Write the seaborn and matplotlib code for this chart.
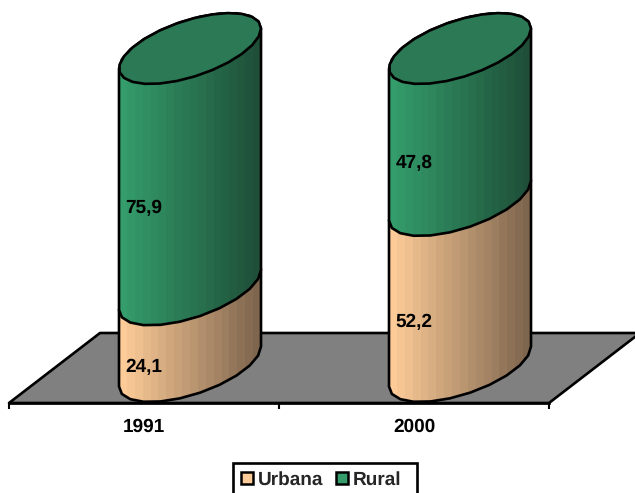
import numpy as np
import pandas as pd
import matplotlib
matplotlib.use("Agg")
import matplotlib.pyplot as plt
from matplotlib.colors import LinearSegmentedColormap
from matplotlib.patches import Polygon, Patch, Rectangle
import seaborn as sns

years = ["1991", "2000"]
urbana = [24.1, 52.2]
rural = [75.9, 47.8]
series_names = ["Urbana", "Rural"]
urbana_light, urbana_dark = "#FDCB98", "#7E664E"
rural_light, rural_dark = "#349D6B", "#1F4F38"
rural_cap = "#2B7955"
floor_colour = "#808080"

sns.set_theme(style="white")
plt.rcParams["font.family"] = ["Liberation Sans", "DejaVu Sans"]
plt.rcParams["font.weight"] = "bold"
plt.rcParams["text.hinting"] = "none"
plt.rcParams["text.hinting_factor"] = 1

W, H = 635, 493
fig = plt.figure(figsize=(W / 100, H / 100), dpi=100)
ax = fig.add_axes([9 / W, (H - 403) / H, 540 / W, 403 / H])
ax.patch.set_alpha(0)

df = pd.DataFrame({"year": years, "urbana": urbana, "rural": rural})
sns.barplot(data=df, x="year", y="urbana", color=urbana_light, width=142 / 270,
            saturation=1, ax=ax, zorder=2, legend=False)
sns.barplot(data=df, x="year", y="rural", bottom=df["urbana"], color=rural_light,
            width=142 / 270, saturation=1, ax=ax, zorder=2, legend=False)

px_x = 1 / 270       # category units per pixel
px_y = 1 / 3.18      # value units per pixel
ax.set_xlim(-0.5, 1.5)
ax.set_ylim(0, 403 * px_y)

depth_x = 46 * px_x
depth_y = 36.5 * px_y
half_w = 71 * px_x
tilt = 20 * px_y
sag = 29.3 * px_y


def ellipse(cx, v, t):
    return np.column_stack([cx + depth_x + half_w * np.cos(t),
                            v + depth_y + tilt * np.cos(t) + sag * np.sin(t)])


front = np.linspace(np.pi, 2 * np.pi, 12)
back = np.linspace(0, np.pi, 12)
edge_kw = dict(edgecolor="black", linewidth=1.9, joinstyle="round")

# floor of the 3-D chart
floor_dx = 91 * px_x
floor_dy = 70 * px_y
ax.add_patch(Polygon([(-0.5, 0), (1.5, 0), (1.5 + floor_dx, floor_dy), (-0.5 + floor_dx, floor_dy)],
                     facecolor=floor_colour, clip_on=False, zorder=1, **edge_kw))

bars = list(ax.patches)[:-1]
n = len(years)
segments = [(bars[i], i, urbana_light, urbana_dark) for i in range(n)] + \
           [(bars[n + i], i, rural_light, rural_dark) for i in range(n)]

for k, (bar, i, light, dark) in enumerate(segments):
    v0, v1 = bar.get_y(), bar.get_y() + bar.get_height()
    cx = bar.get_x() + bar.get_width() / 2
    outline = np.vstack([ellipse(cx, v0, front), ellipse(cx, v1, back)])
    z = 3 + k * 0.1
    skin = Polygon(outline, closed=True, transform=ax.transData, facecolor="none",
                   clip_on=False, zorder=z + 0.02, **edge_kw)
    ax.add_patch(skin)
    cmap = LinearSegmentedColormap.from_list("shade", [light, dark])
    im = ax.imshow(np.linspace(0, 1, 18)[None, :], cmap=cmap, aspect="auto",
                   interpolation="nearest", zorder=z,
                   extent=[cx + depth_x - half_w, cx + depth_x + half_w, 0, 125])
    im.set_clip_path(Polygon(outline, closed=True, transform=ax.transData))
    bar.set_visible(False)
    if light == rural_light:
        cap = ellipse(cx, v1, np.linspace(0, 2 * np.pi, 26))
        ax.add_patch(Polygon(cap, closed=True, facecolor=rural_cap, clip_on=False,
                             zorder=z + 0.05, **edge_kw))

ax.set_xlim(-0.5, 1.5)
ax.set_ylim(0, 403 * px_y)

# value labels sit on the front plane
label_shift = -2 * px_y
for i in range(n):
    ax.text(i, urbana[i] / 2 + label_shift, f"{urbana[i]:.1f}".replace(".", ","), ha="center",
            va="center", fontsize=13.5, fontweight="bold", color="black", zorder=10)
    ax.text(i, urbana[i] + rural[i] / 2 + label_shift, f"{rural[i]:.1f}".replace(".", ","), ha="center",
            va="center", fontsize=13.5, fontweight="bold", color="black", zorder=10)

for s in ["top", "left", "right"]:
    ax.spines[s].set_visible(False)
ax.spines["bottom"].set_linewidth(1.9)
ax.spines["bottom"].set_color("black")
ax.spines["bottom"].set_zorder(2)
ax.set_xlabel("")
ax.set_ylabel("")
ax.set_yticks([])
ax.set_xticks([-0.5, 0.5, 1.5])
ax.set_xticklabels(["", "", ""])
ax.set_xticks([0, 1], minor=True)
ax.set_xticklabels(years, minor=True, fontsize=13.5, fontweight="bold", color="black")
ax.tick_params(axis="x", which="major", length=4.5, width=1.5, color="black", bottom=True)
ax.tick_params(axis="x", which="minor", length=0, pad=11, bottom=True)

# legend frame runs off the bottom of the picture, as in the source
fig.add_artist(Rectangle((233 / W, -8 / H), 184 / W, (8 + H - 463) / H, transform=fig.transFigure,
                         facecolor="white", edgecolor="black", linewidth=1.9))
handles = [Patch(facecolor=urbana_light, edgecolor="black", linewidth=1.8, label=series_names[0]),
           Patch(facecolor=rural_light, edgecolor="black", linewidth=1.8, label=series_names[1])]
leg = fig.legend(handles=handles, ncol=2, loc="center left", bbox_to_anchor=(233 / W, 1 - 480 / H),
                 frameon=False,
                 prop={"family": "Liberation Sans", "weight": "bold", "size": 13.5},
                 handlelength=0.62, handleheight=0.62, handletextpad=0.27, columnspacing=0.7,
                 borderpad=0.42, borderaxespad=0)

fig.savefig("out.png", dpi=100)
